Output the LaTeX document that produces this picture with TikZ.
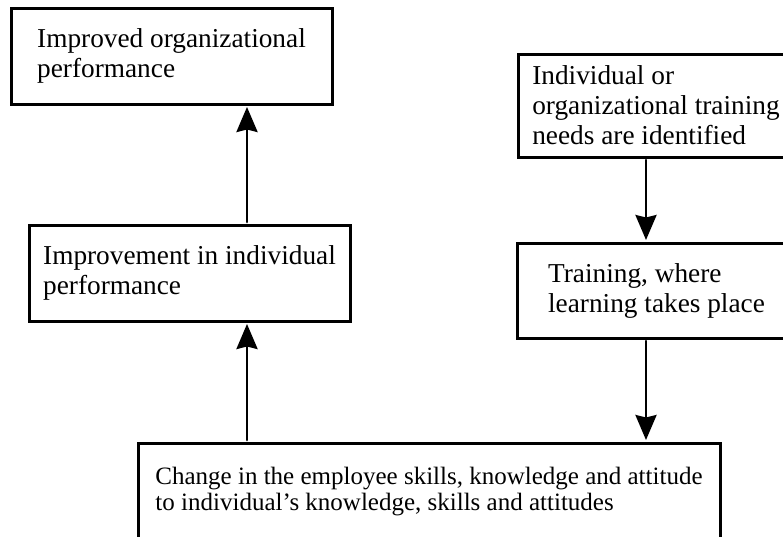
\documentclass[tikz,border=0pt]{standalone}
\usepackage{fontspec}
\setmainfont{Liberation Serif}
\usetikzlibrary{arrows.meta}

\begin{document}
\begin{tikzpicture}[line cap=round,line join=round,>={Stealth[length=25pt,width=21pt,inset=2.5pt]},x=1pt,y=-1pt,
  box/.style={draw,line width=3pt,line join=miter,align=left,inner ysep=2pt,font=\fontsize{27.3}{30}\selectfont},
  flow/.style={->,line width=2.8pt,shorten >=1.5pt,shorten <=1.5pt}]
\useasboundingbox (0,0) rectangle (783,536);
\clip (0,0) rectangle (783,536);
\node[box,minimum width=321pt,minimum height=96pt] (org) at (171.5,56) {Improved organizational\\performance};
\node[box,minimum width=321pt,minimum height=96pt] (ind) at (189.5,273) {Improvement in individual\\performance};
\node[box,minimum width=276pt,minimum height=103pt] (needs) at (656,105.5) {Individual or\\organizational training\\needs are identified};
\node[box,minimum width=279pt,minimum height=95pt] (training) at (656.5,290.5) {Training, where\\learning takes place};
\node[box,minimum width=582pt,minimum height=97pt,font=\fontsize{25}{25.5}\selectfont] (change) at (429,491.5) {Change in the employee skills, knowledge and attitude\\to individual's knowledge, skills and attitudes};
\draw[flow] ([xshift=57.5pt]ind.north) -- ([xshift=75.5pt]org.south);
\draw[flow] ([xshift=-182pt]change.north) -- ([xshift=57.5pt]ind.south);
\draw[flow] ([xshift=-10pt]needs.south) -- ([xshift=-10.5pt]training.north);
\draw[flow] ([xshift=-10.5pt]training.south) -- ([xshift=217pt]change.north);
\end{tikzpicture}
\end{document}
